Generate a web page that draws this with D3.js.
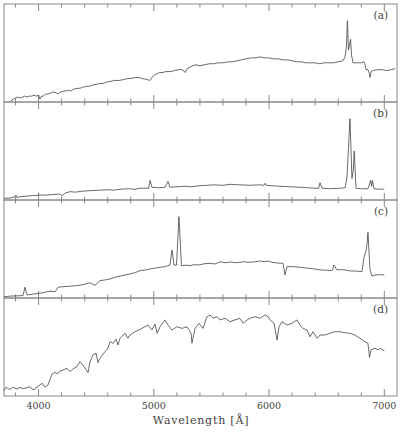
<!DOCTYPE html>
<html>
<head>
<meta charset="utf-8">
<script src="https://cdn.jsdelivr.net/npm/d3@7"></script>
<style>
  body { margin: 0; background: #fff; }
  text { font-family: "DejaVu Serif", serif; fill: #444; }
</style>
</head>
<body>
<div id="vis"></div>
<script>
// spectra: [wavelength (A), relative flux 0-100 of panel height]
const specA = [[3760,1],[3780,3],[3800,4],[3820,5],[3840,4],[3860,5],[3880,6],[3900,5],[3920,6],[3940,6],[3960,7],[3980,6],[4000,7],[4012,3],[4025,6],[4040,6],[4060,8],[4080,8],[4100,9],[4120,10],[4140,10],[4160,9],[4170,8],[4185,10],[4220,11],[4260,12],[4280,11],[4300,13],[4340,14],[4360,14],[4380,15],[4420,16],[4440,16],[4460,17],[4500,18],[4530,19],[4560,19],[4580,20],[4620,21],[4660,22],[4700,22],[4740,23],[4780,24],[4800,24],[4840,25],[4870,25],[4900,24],[4940,23],[4967,22],[4990,26],[5010,28],[5050,30],[5080,30],[5100,31],[5140,31],[5180,32],[5220,33],[5250,33],[5271,30],[5290,34],[5320,36],[5360,38],[5400,37],[5440,38],[5480,39],[5520,39],[5560,40],[5600,40],[5640,41],[5680,41],[5720,42],[5760,43],[5800,44],[5840,45],[5880,45],[5920,46],[5960,45],[6000,45],[6040,44],[6080,44],[6120,43],[6160,43],[6200,42],[6240,41],[6280,41],[6320,40],[6360,40],[6400,40],[6440,39],[6480,40],[6520,40],[6560,40],[6600,41],[6640,42],[6660,46],[6670,55],[6680,83],[6689,53],[6698,58],[6707,64],[6715,48],[6728,40],[6760,40],[6800,40],[6824,41],[6835,37],[6841,33],[6858,33],[6870,29],[6876,25],[6885,31],[6900,32],[6940,33],[6980,33],[7020,32],[7060,33],[7093,34]];

const specB = [[3700,1.7],[3752,2],[3790,3],[3804,5],[3813,2.5],[3839,3.4],[3900,4],[3950,4.5],[4012,5],[4060,5],[4120,5.5],[4186,6],[4203,4.4],[4230,7],[4273,8.5],[4320,8],[4380,9],[4446,9.5],[4490,9.8],[4533,10],[4600,10.5],[4650,10],[4707,11],[4780,11.5],[4840,11],[4880,12],[4955,12],[4967,20],[4984,13],[5040,12.5],[5097,13],[5123,19],[5140,13],[5200,13.5],[5271,14],[5320,13.5],[5357,14],[5401,14.6],[5460,15],[5520,15.5],[5600,15],[5661,16],[5740,15.5],[5835,15],[5920,15.5],[5955,15],[5965,17],[5975,15],[6030,14.5],[6095,14],[6180,13.5],[6268,13],[6340,12.5],[6399,12],[6430,12],[6442,17.7],[6459,12],[6530,11.5],[6615,12],[6660,12.5],[6676,23],[6702,83],[6719,22],[6730,30],[6739,50],[6754,12],[6800,11.5],[6858,11.5],[6882,20],[6889,14],[6897,19.7],[6910,11.5],[6962,11],[7000,11]];

const specC = [[3700,1.3],[3760,2],[3839,2.3],[3865,2.5],[3882,11],[3900,3],[3950,4],[4012,4.8],[4060,6],[4099,7],[4143,6.4],[4169,11],[4210,11.5],[4273,12],[4320,12.5],[4359,13],[4400,14],[4446,15.6],[4490,13],[4533,17.7],[4580,18.5],[4620,19.4],[4660,21],[4707,22.4],[4750,23.5],[4793,24.5],[4840,26],[4880,27.9],[4920,28.5],[4967,29.6],[5010,30.5],[5054,31.3],[5097,32],[5140,33.7],[5158,49],[5175,33.7],[5197,33.7],[5218,83],[5240,33],[5280,33.5],[5314,33],[5350,34],[5392,33.7],[5440,35],[5488,35.4],[5531,34.7],[5574,37],[5620,36],[5661,36.7],[5720,36],[5780,37],[5835,36.4],[5880,37],[5921,37.8],[5965,37],[5991,37.8],[6020,36.5],[6052,36],[6090,35.5],[6121,35.4],[6138,23.5],[6156,32],[6210,32],[6268,31.3],[6330,30.5],[6399,29.6],[6442,28.6],[6490,28.5],[6529,27.9],[6550,28.5],[6563,33.7],[6589,28.6],[6620,29],[6659,28.6],[6702,27.6],[6760,27.5],[6806,26.8],[6824,42],[6841,48],[6850,55],[6858,67],[6876,28.6],[6893,22.4],[6919,23.5],[6960,23.8],[7000,23.5]];

const specD = [[3700,5.4],[3717,8.9],[3735,7.5],[3752,6.8],[3778,8.9],[3813,7.1],[3839,8.9],[3860,7.5],[3882,7.9],[3926,9.5],[3952,6.1],[3986,8.9],[4030,13],[4056,8.9],[4082,11.2],[4116,22.4],[4143,24.2],[4165,22.5],[4186,25.5],[4212,26.5],[4247,28.3],[4273,24.8],[4299,27.6],[4333,29.9],[4359,35],[4385,31.6],[4429,23.8],[4446,35],[4472,41.8],[4498,43.6],[4516,34],[4533,38.5],[4576,45.2],[4602,48.7],[4620,55.4],[4646,53.8],[4672,57.9],[4689,52],[4707,58.9],[4750,64],[4776,58.9],[4793,62.2],[4837,65.6],[4880,68],[4923,70.7],[4950,72.4],[4984,67.3],[5010,73.5],[5028,64],[5054,70.7],[5097,77.6],[5123,72.4],[5158,67.3],[5201,70.7],[5245,69],[5288,70.7],[5323,64],[5331,53.8],[5357,69],[5392,74.2],[5427,69],[5461,80.9],[5488,82.7],[5514,79.3],[5548,80.9],[5574,77.6],[5618,79.3],[5661,75.8],[5704,77.6],[5748,79.3],[5774,74.2],[5809,77.6],[5835,79.3],[5878,80.9],[5921,79.3],[5965,82.7],[5991,80.9],[6008,77.6],[6043,74.2],[6069,57.1],[6086,70.7],[6112,75.8],[6156,72.4],[6199,74.2],[6242,77.6],[6268,72.4],[6294,69],[6329,67.3],[6355,60.5],[6381,65.6],[6416,58.9],[6442,62.2],[6485,62.2],[6529,64],[6572,65.6],[6615,65.6],[6659,64.6],[6702,64],[6745,62.2],[6789,58.9],[6832,55.4],[6858,53.8],[6871,39.5],[6884,47],[6919,48.7],[6945,47],[6962,48.7],[7000,46.2]];

const panels = [specA, specB, specC, specD];
const panelLabels = ["(a)", "(b)", "(c)", "(d)"];
const majorTicks = [4000, 5000, 6000, 7000];
const xLabel = "Wavelength [\u00c5]";

const W = 400, H = 433;
const mLeft = 4, mRight = 397, mTop = 4, mBottom = 396;
const ph = (mBottom - mTop) / panels.length;

const svg = d3.select("#vis").append("svg")
    .attr("width", W)
    .attr("height", H);

const x = d3.scaleLinear().domain([3700, 7110]).range([mLeft, mRight]);
const minorTicks = d3.range(3800, 7101, 200).filter(d => d % 1000 !== 0);

panels.forEach((spec, i) => {
  const y0 = mTop + i * ph;
  const y = d3.scaleLinear().domain([0, 100]).range([y0 + ph, y0]);
  const g = svg.append("g");

  // frame
  g.append("rect")
    .attr("x", mLeft).attr("y", y0)
    .attr("width", mRight - mLeft).attr("height", ph)
    .attr("fill", "none").attr("stroke", "#888").attr("stroke-width", 1);

  // ticks, top and bottom, pointing in
  const tick = (vals, len) => {
    g.selectAll(null).data(vals).enter().append("line")
      .attr("x1", d => x(d)).attr("x2", d => x(d))
      .attr("y1", y0).attr("y2", y0 + len)
      .attr("stroke", "#888");
    g.selectAll(null).data(vals).enter().append("line")
      .attr("x1", d => x(d)).attr("x2", d => x(d))
      .attr("y1", y0 + ph).attr("y2", y0 + ph - len)
      .attr("stroke", "#888");
  };
  tick(majorTicks, 7);
  tick(minorTicks, 3.5);

  const line = d3.line().x(d => x(d[0])).y(d => y(d[1]));
  g.append("path")
    .datum(spec)
    .attr("d", line)
    .attr("fill", "none")
    .attr("stroke", "#444")
    .attr("stroke-width", 0.8);

  g.append("text")
    .attr("x", 388).attr("y", y0 + 14.5)
    .attr("text-anchor", "end")
    .attr("font-size", 10.5)
    .text(panelLabels[i]);
});

// x axis labels
svg.selectAll(".xt").data(majorTicks).enter().append("text")
  .attr("class", "xt")
  .attr("x", d => x(d))
  .attr("y", 409)
  .attr("text-anchor", "middle")
  .attr("font-size", 9.5)
  .text(d => d);

svg.append("text")
  .attr("x", 201).attr("y", 424)
  .attr("text-anchor", "middle")
  .attr("font-size", 11)
  .attr("letter-spacing", 0.8)
  .text(xLabel);
</script>
</body>
</html>
